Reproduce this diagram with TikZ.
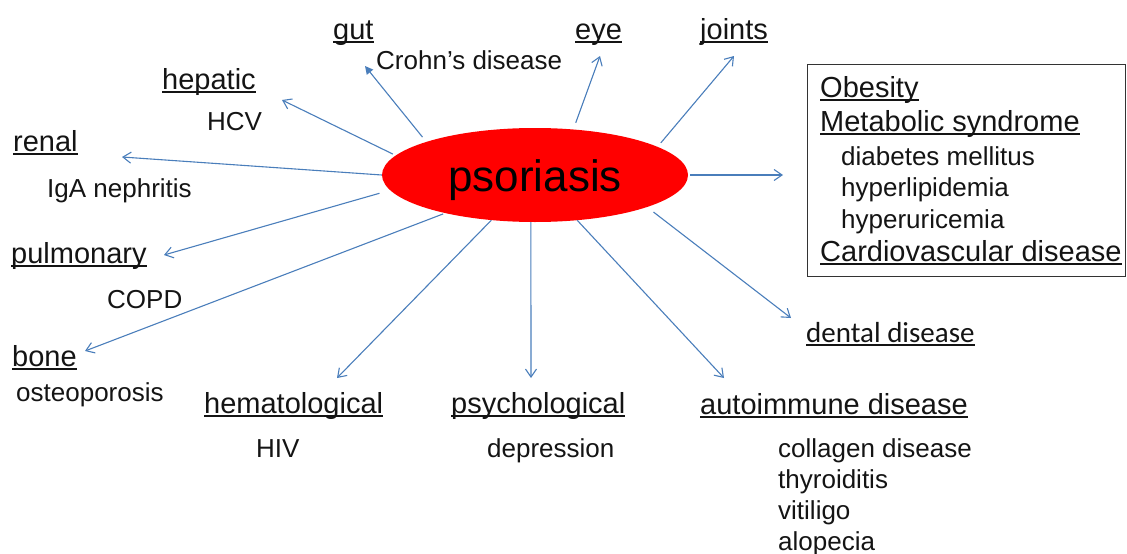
\documentclass[tikz,border=0pt]{standalone}
\usepackage{fontspec}
\setmainfont{Liberation Sans}
\newfontfamily\calibfont{Carlito}
\usetikzlibrary{arrows.meta,shapes.geometric}
\definecolor{arrblue}{RGB}{74,126,187}
\definecolor{txt}{RGB}{20,20,20}
\newcommand\myul[1]{\setbox0\hbox{#1}\rlap{\vrule height -2pt depth 4pt width \wd0}\box0}
\begin{document}
\begin{tikzpicture}[x=1pt,y=-1pt,
  hd/.style={anchor=base west, inner sep=0pt, text=txt, font=\fontsize{29}{34}\selectfont},
  sm/.style={anchor=base west, inner sep=0pt, text=txt, font=\fontsize{26}{31}\selectfont},
  arr/.style={draw=arrblue, line width=1.1pt, -{Straight Barb[length=8pt,width=11pt,line width=1.1pt]}},
  arrf/.style={draw=arrblue, line width=1.1pt, -{Triangle[length=8pt,width=8pt]}}]
\useasboundingbox (0,0) rectangle (1127,554);
% central ellipse
\node[ellipse, fill=red, minimum width=306pt, minimum height=94pt, inner sep=0pt] (ps) at (535,175) {};
\node[anchor=base, inner sep=0pt, text=black, font=\fontsize{44}{50}\selectfont] (pst) at (535,191) {psoriasis};
% box
\node[draw=black!80, line width=1.2pt, minimum width=318pt, minimum height=212pt, inner sep=0pt, anchor=north west] (box) at (807,64) {};
% headings
\node[hd] (gut) at (333,39) {\myul{gut}};
\node[hd] (eye) at (575,39) {\myul{eye}};
\node[hd] (joints) at (700,39) {\myul{joints}};
\node[hd] (hepatic) at (162,89) {\myul{hepatic}};
\node[hd] (renal) at (13,151) {\myul{renal}};
\node[hd] (pulmonary) at (11,263) {\myul{pulmonary}};
\node[hd] (bone) at (12,366) {\myul{bone}};
\node[hd] (hemat) at (204,413) {\myul{hematological}};
\node[hd] (psych) at (451,413) {\myul{psychological}};
\node[hd] (autoim) at (700,414) {\myul{autoimmune disease}};
\node[hd, font=\calibfont\fontsize{29}{34}\selectfont] (dental) at (806,342) {\myul{dental disease}};
\node[hd] (obes) at (820,97) {\myul{Obesity}};
\node[hd] (metab) at (820,131) {\myul{Metabolic syndrome}};
\node[hd] (cardio) at (820,261) {\myul{Cardiovascular disease}};
% small texts
\node[sm] (crohn) at (376,69) {Crohn’s disease};
\node[sm] (hcv) at (207,130) {HCV};
\node[sm] (iga) at (47,197) {IgA nephritis};
\node[sm] (copd) at (107,308) {COPD};
\node[sm] (osteo) at (16,401) {osteoporosis};
\node[sm] (hiv) at (256,457) {HIV};
\node[sm] (depr) at (487,457) {depression};
\node[sm] (diab) at (841,165) {diabetes mellitus};
\node[sm] (hlip) at (841,196) {hyperlipidemia};
\node[sm] (huri) at (841,228) {hyperuricemia};
\node[sm] (coll) at (778,457) {collagen disease};
\node[sm] (thyr) at (778,488) {thyroiditis};
\node[sm] (viti) at (778,519) {vitiligo};
\node[sm] (alop) at (778,550) {alopecia};
% arrow end points
\coordinate (gutE) at (365,66);
\coordinate (hepE) at (282,100);
\coordinate (renE) at (122,157);
\coordinate (pulE) at (164,255);
\coordinate (bonE) at (85,351);
\coordinate (hemE) at (337,378);
\coordinate (psyE) at (531,378);
\coordinate (autE) at (724,378);
\coordinate (denE) at (791,318);
\coordinate (boxE) at (783,175);
\coordinate (joiE) at (734,56);
\coordinate (eyeE) at (600,56);
% arrows
\draw[arrf, shorten <=6pt] (ps.163.7) -- (gutE);
\draw[arr, shorten <=3pt] (ps.172.6) -- (hepE);
\draw[arr] (ps.180) -- (renE);
\draw[arr, shorten <=11pt] (ps.186.6) -- (pulE);
\draw[arr, shorten <=2pt] (ps.203.3) -- (bonE);
\draw[arr] (ps.226.4) -- (hemE);
\draw[arr] (ps.265.1) -- (psyE);
\draw[arr] (ps.313.6) -- (autE);
\draw[arr, shorten <=8pt] (ps.344.4) -- (denE);
\draw[arr, shorten <=2pt] (ps.0) -- (boxE);
\draw[arr, shorten <=5pt] (ps.13.8) -- (joiE);
\draw[arr, shorten <=7pt] (ps.50.4) -- (eyeE);
\end{tikzpicture}
\end{document}
